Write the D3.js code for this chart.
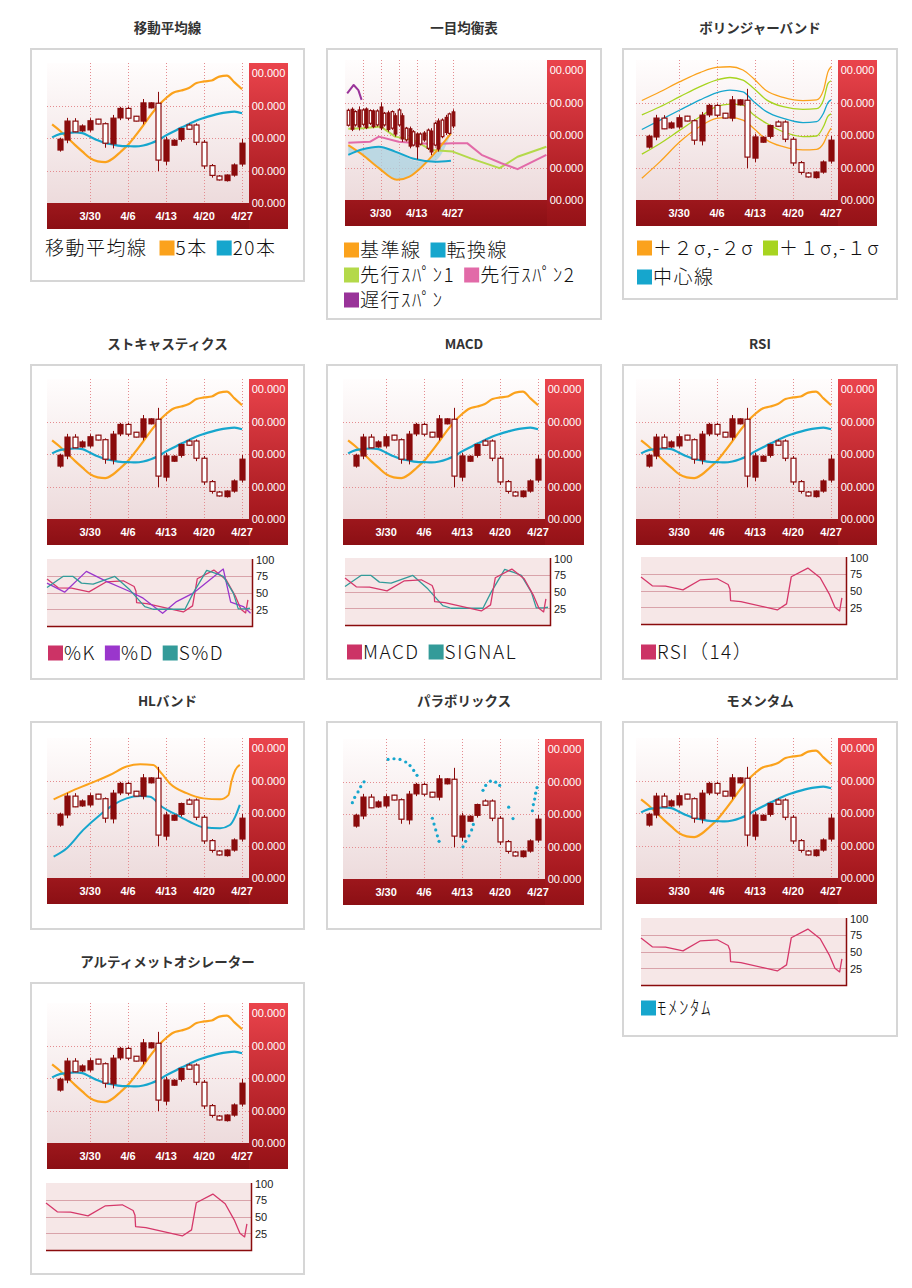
<!DOCTYPE html>
<html>
<head>
<meta charset="utf-8">
<script src="https://cdn.jsdelivr.net/npm/d3@7"></script>
<style>
body { margin: 0; background: #fff; }
svg text { font-family: "Liberation Sans", Arial, sans-serif; }
.ttl { font-family: "Noto Sans CJK JP", sans-serif; font-weight: bold; font-size: 13.5px; fill: #333; }
.lg { font-family: "Noto Sans CJK JP", sans-serif; font-weight: 300; font-size: 19px; letter-spacing: 1.5px; fill: #111; }
</style>
</head>
<body>
<div id="chart"></div>
<script>
// trading days shown on the candle charts
const days = ["3/24","3/25","3/26","3/27","3/30","3/31","4/1","4/2","4/3","4/6","4/7","4/8","4/9","4/10",
  "4/13","4/14","4/15","4/16","4/17","4/20","4/21","4/22","4/23","4/24","4/27"];
const dayTicks = ["3/30","4/6","4/13","4/20","4/27"];

// open, high, low, close
const ohlc = [
  [116.3,120.1,115.8,119.6],[119.4,126.2,118.4,125.2],[125.2,126.1,121.8,121.9],[122.2,124.2,121.9,123.7],
  [122.5,126.1,121.9,125.3],[125.8,125.9,124.2,124.3],[124.4,124.8,117.0,118.4],[118.2,127.1,116.8,126.1],
  [126.2,129.6,125.5,129.1],[129.1,129.6,125.5,126.1],[126.7,126.8,125.1,125.2],[125.2,132.0,124.2,130.8],
  [129.3,131.0,129.1,130.8],[130.7,134.2,109.8,113.2],[112.9,120.4,111.7,119.4],[117.8,119.6,117.6,119.3],
  [119.6,123.2,118.9,122.9],[124.0,124.5,122.5,122.7],[124.0,124.5,117.8,118.7],[118.7,119.4,110.5,111.4],
  [111.5,112.0,107.8,108.5],[108.3,108.6,106.9,107.1],[106.9,108.8,106.6,108.6],[108.6,112.2,108.1,111.7],
  [112.0,119.7,111.2,118.4]
];

// moving averages, first value sits one day before 3/24
const maStart = -1;
const ma5 = [124.2,122.3,120.1,117.9,115.8,113.8,112.8,112.6,113.7,115.7,117.9,120.8,123.9,127.1,130.0,
  132.3,134.0,134.6,135.4,136.9,137.4,137.7,138.9,139.2,137.1,135.0];
const ma20 = [120.2,121.2,121.5,121.7,121.5,120.4,119.3,118.5,118.0,117.6,117.5,117.4,117.7,118.4,119.4,
  120.8,122.0,123.2,124.3,125.4,126.2,126.9,127.5,127.9,128.1,127.6];

// bollinger bands
const bbIdx = [-0.9,1.5,4.1,6.75,8.9,10.7,12.4,13.8,15.5,17.7,20.3,22.1,23,23.6,24];
const bbUp2 = [130.6,133.3,136.4,139.2,140.8,141.0,140.0,137.4,133.6,131.6,130.6,130.8,133.8,139.5,141.0];
const bbUp1 = [126.2,128.7,131.8,134.9,136.9,137.7,136.9,134.4,130.8,128.7,127.9,128.1,130.8,135.9,136.7];
const bbMid = [121.7,124.6,127.7,130.8,133.0,133.8,133.3,130.3,127.2,125.1,123.8,124.1,126.7,130.0,130.8];
const bbLo1 = [114.1,117.4,121.5,125.6,128.7,129.5,129.2,126.2,123.6,121.0,119.5,119.7,122.6,125.8,126.5];
const bbLo2 = [106.7,111.8,117.9,122.6,125.1,125.4,124.6,122.1,118.5,116.4,115.4,115.6,117.4,120.5,122.1];

// HL band [day index, value]
const hlUpper = [[-0.8,124.2],[1.4,126.6],[4,129.1],[6.6,131.7],[8.8,134.3],[10.6,135.0],[12.3,134.8],[13.4,132.2],
  [14.5,129.1],[16.7,126.1],[18.9,124.5],[21.1,124.2],[22.2,125.5],[22.6,129.7],[23.1,133.2],[23.7,134.8]];
const hlLower = [[-0.8,106.6],[0.9,109.1],[3.1,114.8],[5.3,119.4],[7.05,122.5],[8.8,124.5],[10.6,125.2],[11.9,125.0],
  [13.4,122.0],[15.4,119.4],[17.1,117.3],[18.9,115.6],[21.1,115.3],[22.4,116.3],[23.1,118.9],[23.7,122.5]];

// parabolic SAR dots [day index, value]
const sar = [[-0.44,123.5],[-0.13,125.1],[0.31,126.8],[0.66,128.4],[1.1,129.9],
  [4.26,136.8],[5.04,137.0],[5.83,136.8],[6.58,136.0],[7.15,134.9],[7.63,133.4],[8.07,131.9],
  [10.09,118.7],[10.31,116.9],[10.53,115.1],[10.75,113.3],[10.97,111.6],
  [14.12,109.9],[14.47,111.6],[14.91,113.3],[15.26,115.1],[15.48,116.8],
  [16.75,127.3],[17.11,128.8],[17.72,130.1],[18.42,129.8],[18.95,128.8],
  [20.13,122.1],[20.7,118.6],
  [23.25,121.0],[23.38,122.9],[23.55,124.6],[23.68,126.4],[23.86,128.1]];

// ichimoku: longer period of days
const ichiDays = ["3/17","3/18","3/19","3/20","3/23","3/24","3/25","3/26","3/27","3/30","3/31","4/1","4/2","4/3",
  "4/6","4/7","4/8","4/9","4/10","4/13","4/14","4/15","4/16","4/17","4/20","4/21","4/22","4/23","4/24","4/27"];
const ichiTicks = ["3/30","4/13","4/27"];
const ichiGrid = ["3/23","3/30","4/6","4/13","4/20","4/27"];
const ichiOhlc = [
  [127.6,128.1,122.6,123.0],[121.8,128.5,121.2,127.9],[127.2,127.6,122.6,123.1],[122.5,128.8,121.4,127.7],
  [127.7,128.2,122.8,123.3],[122.3,128.5,121.8,128.0],[127.5,127.9,123.1,123.6],[122.6,127.9,122.1,127.4],
  [127.4,127.9,122.6,123.1],[122.2,130.0,121.5,128.6],[126.7,127.1,122.6,123.1],[121.7,127.5,121.0,126.8],
  [127.2,127.6,121.6,122.1],[120.3,126.7,119.5,125.9],[127.7,128.2,122.6,123.1],[118.8,126.7,117.9,125.9],
  [122.1,122.5,118.0,118.5],[116.6,122.6,115.9,121.9],[121.0,121.5,116.5,116.9],[116.4,120.8,112.5,120.3],
  [120.3,120.8,116.8,117.2],[118.5,121.2,117.9,120.6],[121.5,122.0,115.4,115.9],[114.8,122.1,113.8,121.2],
  [123.6,124.1,116.5,116.9],[115.7,125.1,114.9,124.3],[124.6,125.1,119.0,119.5],[120.8,126.2,120.0,125.4],
  [126.5,126.9,120.1,120.5],[122.8,127.9,122.1,127.1]
];
const span1 = [[0,121.9],[4,122.1],[9,122.6],[13,119.5],[18,118.5],[23,115.4],[29,114.9],[34,112.8],[42,109.8],[47,113.3],[55,116.4]];
const span2 = [[0,117.6],[6,117.9],[8.5,119.5],[14,117.9],[19.5,117.5],[24,117.2],[29,117.5],[33,117.5],[37,113.9],[42.5,111.3],[47,109.5],[55,113.9]];
const kijun = [[0,116.9],[4,113.9],[8.5,109.8],[13.5,106.2],[17,107.2],[20.5,110.3],[24,114.4],[28.5,120.5]];
const tenkan = [[0,113.9],[4,115.6],[8.5,116.4],[13,114.9],[18.5,112.6],[24,111.8],[28.5,112.1]];
const chikou = [[-0.3,132.8],[1.5,135.4],[2.8,133.8],[3.7,130.8]];

// oscillators [position 0..1, value 0..100]
const oscMain = [[0,70],[0.055,57],[0.12,56.5],[0.205,51],[0.29,66],[0.372,67.5],[0.425,59],[0.434,52],[0.437,35],
  [0.487,33.5],[0.665,21],[0.71,30],[0.733,70.5],[0.814,83.5],[0.874,69],[0.918,45],[0.946,25],[0.969,19.5],[0.98,39]];
const stochD = [[0,64],[0.086,50.5],[0.192,81.5],[0.29,66.5],[0.404,51.5],[0.469,41.5],[0.564,19],[0.632,36.5],
  [0.713,49],[0.86,85],[0.896,35.5],[0.958,29],[0.993,19]];
const stochSD = [[0,57.5],[0.078,74],[0.127,74],[0.168,64],[0.225,62.5],[0.331,74],[0.404,54],[0.477,29],[0.518,25],
  [0.673,25],[0.713,49],[0.779,83],[0.827,78],[0.86,74],[0.909,49],[0.933,25.5],[0.971,25.5],[0.99,26.5]];
const oscTicks = [100,75,50,25];
const priceTicks = [100,110,120,130,140];

const ORANGE = "#fba21c", BLUE = "#16a6cd", GREEN = "#a7d420", SPAN1 = "#b4d94a", SPAN2 = "#e26aa8",
  PURPLE = "#993399", RED = "#d5386a", VIOLET = "#9a36cc", TEAL = "#339b99", CANDLE = "#8a0b0c";

const PW = 202, PH = 140, RW = 39, BH = 26, SW = 205, SH = 67;

const y = d3.scaleLinear().domain([100, 143.08]).range([PH, 0]);
const xMain = d3.scaleLinear().domain([-1.67, 24.91]).range([0, PW]);
const xIchi = d3.scaleLinear().domain([-0.91, 55.17]).range([0, PW]);
const xs = d3.scaleLinear().domain([0, 1]).range([0, SW]);
const ys = d3.scaleLinear().domain([0, 100]).range([SH, 0]);

const svg = d3.select("#chart").append("svg").attr("width", 912).attr("height", 1288);
const defs = svg.append("defs");
function grad(id, stops) {
  const g = defs.append("linearGradient").attr("id", id).attr("x1", 0).attr("y1", 0).attr("x2", 0).attr("y2", 1);
  stops.forEach(s => g.append("stop").attr("offset", s[0]).attr("stop-color", s[1]));
}
grad("plotBg", [[0, "#fffdfd"], [1, "#eddbdc"]]);
grad("sideBg", [[0, "#ea444c"], [0.8, "#a7191f"], [1, "#941217"]]);
grad("footBg", [[0, "#9d171c"], [1, "#8b0f14"]]);
defs.append("clipPath").attr("id", "plotClip").append("rect").attr("width", PW).attr("height", PH);

const panels = [
  {title: "移動平均線", box: [30,48,275,234], chart: [47,63], kind: "ma",
   legend: {x: 45, rows: [248], items: [[{t: "移動平均線"}, {c: ORANGE, t: "5本"}, {c: BLUE, t: "20本"}]]}},
  {title: "一目均衡表", box: [326,48,276,272], chart: [345,60], kind: "ichi",
   legend: {x: 344, rows: [250,275,300], items: [[{c: ORANGE, t: "基準線"}, {c: BLUE, t: "転換線"}],
     [{c: SPAN1, t: "先行ｽﾊﾟﾝ1"}, {c: SPAN2, t: "先行ｽﾊﾟﾝ2"}], [{c: PURPLE, t: "遅行ｽﾊﾟﾝ"}]]}},
  {title: "ボリンジャーバンド", box: [622,48,276,252], chart: [636,60], kind: "bb",
   legend: {x: 637, rows: [248,277], items: [[{c: ORANGE, t: "＋２σ,-２σ"}, {c: GREEN, t: "＋１σ,-１σ"}], [{c: BLUE, t: "中心線"}]]}},
  {title: "ストキャスティクス", box: [30,364,275,316], chart: [47,379], kind: "ma",
   sub: {at: [47,559], lines: [[oscMain, RED], [stochD, VIOLET], [stochSD, TEAL]]},
   legend: {x: 48, rows: [653], items: [[{c: "#cc3366", t: "%K"}, {c: VIOLET, t: "%D"}, {c: TEAL, t: "S%D"}]]}},
  {title: "MACD", box: [326,364,276,316], chart: [343,379], kind: "ma",
   sub: {at: [345,558], lines: [[stochSD, TEAL], [oscMain, RED]]},
   legend: {x: 347, rows: [652], items: [[{c: "#cc3366", t: "MACD"}, {c: TEAL, t: "SIGNAL"}]]}},
  {title: "RSI", box: [622,364,276,316], chart: [636,379], kind: "ma",
   sub: {at: [641,557], lines: [[oscMain, RED]]},
   legend: {x: 641, rows: [652], items: [[{c: "#cc3366", t: "RSI（14）"}]]}},
  {title: "HLバンド", box: [30,721,275,209], chart: [47,738], kind: "hl"},
  {title: "パラボリックス", box: [326,721,276,209], chart: [343,739], kind: "sar"},
  {title: "モメンタム", box: [622,721,276,316], chart: [636,738], kind: "ma",
   sub: {at: [641,918], lines: [[oscMain, RED]]},
   legend: {x: 641, rows: [1008], items: [[{c: BLUE, t: "ﾓﾒﾝﾀﾑ"}]]}},
  {title: "アルティメットオシレーター", box: [30,982,275,293], chart: [47,1003], kind: "ma",
   sub: {at: [46,1183], lines: [[oscMain, RED]]}}
];

function frame(g, x, grid, labels, dates) {
  g.append("rect").attr("width", PW).attr("height", PH).attr("fill", "url(#plotBg)");
  g.append("rect").attr("x", PW).attr("width", RW).attr("height", PH + BH).attr("fill", "url(#sideBg)");
  g.append("rect").attr("y", PH).attr("width", PW).attr("height", BH).attr("fill", "url(#footBg)");
  const gl = g.append("g").attr("stroke", "#e48c90").attr("stroke-width", 1).attr("stroke-dasharray", "1,2");
  gl.selectAll(".h").data([110, 120, 130]).join("line")
    .attr("x1", 0).attr("x2", PW).attr("y1", d => Math.round(y(d)) + 0.5).attr("y2", d => Math.round(y(d)) + 0.5);
  gl.selectAll(".v").data(grid).join("line")
    .attr("x1", d => Math.round(x(dates.indexOf(d))) + 0.5).attr("x2", d => Math.round(x(dates.indexOf(d))) + 0.5)
    .attr("y1", 0).attr("y2", PH);
  g.selectAll(".pl").data(priceTicks).join("text")
    .attr("x", PW + RW / 2).attr("y", d => y(d) + 4).attr("text-anchor", "middle")
    .attr("fill", "#fff").attr("font-size", 11).text("00.000");
  g.selectAll(".dl").data(labels).join("text")
    .attr("x", d => x(dates.indexOf(d))).attr("y", PH + 17).attr("text-anchor", "middle")
    .attr("fill", "#fff").attr("font-size", 11).attr("font-weight", "bold").text(d => d);
}

function candles(g, x, data, bw) {
  const cg = g.append("g").attr("clip-path", "url(#plotClip)");
  const c = cg.selectAll("g").data(data).join("g");
  c.append("line")
    .attr("x1", (d, i) => Math.round(x(i)) + 0.5).attr("x2", (d, i) => Math.round(x(i)) + 0.5)
    .attr("y1", d => y(d[1])).attr("y2", d => y(d[2]))
    .attr("stroke", CANDLE).attr("stroke-width", 1);
  c.append("rect")
    .attr("x", (d, i) => Math.round(x(i)) + 0.5 - bw / 2).attr("width", bw)
    .attr("y", d => y(Math.max(d[0], d[3])))
    .attr("height", d => Math.max(1, Math.abs(y(d[0]) - y(d[3]))))
    .attr("fill", d => d[3] > d[0] ? CANDLE : "#fff")
    .attr("stroke", CANDLE).attr("stroke-width", 1.2);
}

function path(g, pts, x, color, width, curve) {
  const line = d3.line().x(d => x(d[0])).y(d => y(d[1])).curve(curve || d3.curveMonotoneX);
  g.append("path").datum(pts).attr("d", line).attr("fill", "none")
    .attr("stroke", color).attr("stroke-width", width).attr("stroke-linejoin", "round")
    .attr("clip-path", "url(#plotClip)");
}

const withIdx = (vals, start) => vals.map((v, i) => [start + i, v]);
const zipIdx = (idx, vals) => vals.map((v, i) => [idx[i], v]);

function oscillator(g, lines) {
  g.append("rect").attr("width", SW).attr("height", SH).attr("fill", "#f6e7e7");
  g.selectAll(".gr").data([25, 50, 75]).join("line")
    .attr("x1", 0).attr("x2", SW).attr("y1", d => Math.round(ys(d)) + 0.5).attr("y2", d => Math.round(ys(d)) + 0.5)
    .attr("stroke", "#d9a3aa").attr("stroke-width", 1);
  const line = d3.line().x(d => xs(d[0])).y(d => ys(d[1]));
  lines.forEach(l => g.append("path").datum(l[0]).attr("d", line).attr("fill", "none")
    .attr("stroke", l[1]).attr("stroke-width", 1.3).attr("stroke-linejoin", "round"));
  g.append("path").attr("d", `M0,${SH + 0.5}H${SW + 0.5}V0`).attr("fill", "none")
    .attr("stroke", CANDLE).attr("stroke-width", 1.5);
  g.selectAll(".ol").data(oscTicks).join("text")
    .attr("x", SW + 4).attr("y", d => ys(d) + 4.5).attr("font-size", 11).attr("fill", "#222").text(d => d);
}

function legend(lg) {
  lg.rows.forEach((ry, r) => {
    let cx = lg.x;
    lg.items[r].forEach(it => {
      if (it.c) {
        svg.append("rect").attr("x", cx).attr("y", ry - 7.5).attr("width", 15).attr("height", 15).attr("fill", it.c);
        cx += 16;
      }
      const t = svg.append("text").attr("class", "lg").attr("x", cx).attr("y", ry + 6.8).text(it.t);
      cx += t.node().getComputedTextLength() + (it.c ? 9 : 12);
    });
  });
}

panels.forEach(p => {
  svg.append("rect").attr("x", p.box[0] + 1).attr("y", p.box[1] + 1)
    .attr("width", p.box[2] - 2).attr("height", p.box[3] - 2)
    .attr("fill", "#fff").attr("stroke", "#d6d6d6").attr("stroke-width", 2);
  svg.append("text").attr("class", "ttl").attr("x", p.box[0] + p.box[2] / 2).attr("y", p.box[1] - 15)
    .attr("text-anchor", "middle").text(p.title);

  const g = svg.append("g").attr("transform", `translate(${p.chart[0]},${p.chart[1]})`);
  if (p.kind === "ichi") {
    frame(g, xIchi, ichiGrid, ichiTicks, ichiDays);
    const area = d3.area().x(d => xIchi(d[0])).y0(d => y(d[1])).y1(d => y(d[2])).curve(d3.curveMonotoneX);
    const cloud = kijun.map((k, i) => [k[0], k[1], tenkan[i] ? tenkan[i][1] : k[1]]);
    g.append("path").datum(cloud).attr("d", area).attr("fill", "#a9d3e2").attr("opacity", 0.75);
    path(g, span1, xIchi, SPAN1, 2, d3.curveLinear);
    path(g, span2, xIchi, SPAN2, 2, d3.curveLinear);
    path(g, kijun, xIchi, ORANGE, 2, d3.curveMonotoneX);
    path(g, tenkan, xIchi, BLUE, 2, d3.curveMonotoneX);
    candles(g, xIchi, ichiOhlc, 2.6);
    path(g, chikou, xIchi, PURPLE, 2, d3.curveLinear);
  } else {
    frame(g, xMain, dayTicks, dayTicks, days);
    if (p.kind === "ma") {
      path(g, withIdx(ma5, maStart), xMain, ORANGE, 2.2);
      path(g, withIdx(ma20, maStart), xMain, BLUE, 2.2);
    } else if (p.kind === "bb") {
      [[bbUp2, ORANGE], [bbUp1, GREEN], [bbMid, BLUE], [bbLo1, GREEN], [bbLo2, ORANGE]]
        .forEach(b => path(g, zipIdx(bbIdx, b[0]), xMain, b[1], 1.3));
    } else if (p.kind === "hl") {
      path(g, hlUpper, xMain, ORANGE, 2);
      path(g, hlLower, xMain, BLUE, 2);
    }
    candles(g, xMain, ohlc, 5);
    if (p.kind === "sar") {
      g.selectAll(".sar").data(sar).join("circle")
        .attr("cx", d => xMain(d[0])).attr("cy", d => y(d[1])).attr("r", 1.6).attr("fill", BLUE);
    }
  }
  if (p.sub) oscillator(svg.append("g").attr("transform", `translate(${p.sub.at[0]},${p.sub.at[1]})`), p.sub.lines);
  if (p.legend) legend(p.legend);
});
</script>
</body>
</html>
